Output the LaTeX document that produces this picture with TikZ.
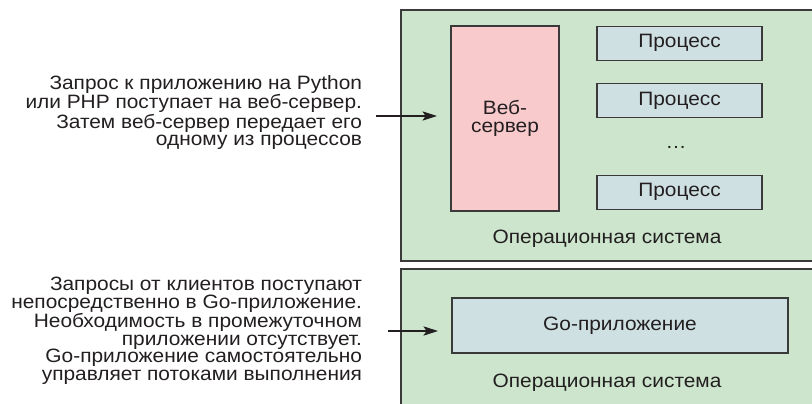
\documentclass[tikz,border=0pt]{standalone}
\usepackage{fontspec}
\setmainfont[FakeStretch=1.08]{Liberation Sans}
\usetikzlibrary{arrows.meta}
\definecolor{osgreen}{HTML}{CCE5CC}
\definecolor{wspink}{HTML}{F8CACC}
\definecolor{procblue}{HTML}{CFE0E3}
\definecolor{edge}{HTML}{3A3A3A}
\definecolor{txt}{HTML}{231F20}
\begin{document}
\begin{tikzpicture}[x=0.75pt,y=-0.75pt,
  every node/.style={inner sep=0pt,outer sep=0pt,text=txt,font=\fontsize{14.5pt}{13.2pt}\selectfont},
  osbox/.style={draw=edge,fill=osgreen,line width=0.9pt,anchor=north west},
  wsbox/.style={draw=edge,fill=wspink,line width=0.9pt,minimum width=81pt,minimum height=138.75pt,align=center},
  procbox/.style={draw=edge,fill=procblue,line width=0.9pt,minimum width=123.75pt,minimum height=25.5pt},
  gobox/.style={draw=edge,fill=procblue,line width=0.9pt,minimum width=252pt,minimum height=41.25pt},
  note/.style={anchor=east,align=right},
  arr/.style={draw=txt,line width=0.8pt,-{Stealth[length=11pt,width=7pt,inset=2.5pt]},shorten >=10.5pt}
]
\clip (0,0) rectangle (812,403);
\fill[white] (0,0) rectangle (812,403);
% top: web server scheme
\node[osbox,minimum width=321.75pt,minimum height=188.25pt] (os1) at (401,10) {};
\node[wsbox] (ws) at (505,118.5) {Веб-\\сервер};
\node[procbox] (p1) at (679.5,43.2) {Процесс};
\node[procbox] (p2) at (679.5,100.5) {Процесс};
\node[anchor=base] (dots) at (676,148) {…};
\node[procbox] (p3) at (679.5,192.3) {Процесс};
\node (os1lbl) at (607,238.5) {Операционная система};
\node[note] (t1) at (362,112.5) {Запрос к приложению на Python\\или PHP поступает на веб-сервер.\\Затем веб-сервер передает его\\одному из процессов};
\coordinate (a1) at (376,116);
\draw[arr] (a1) -- (ws.west |- a1);
% bottom: Go scheme
\node[osbox,minimum width=321.75pt,minimum height=120pt] (os2) at (401,269) {};
\node[gobox] (go) at (620,325.5) {Go-приложение};
\node (os2lbl) at (607,383) {Операционная система};
\node[note] (t2) at (362,330.7) {Запросы от клиентов поступают\\непосредственно в Go-приложение.\\Необходимость в промежуточном\\приложении отсутствует.\\Go-приложение самостоятельно\\управляет потоками выполнения};
\coordinate (a2) at (388,331);
\draw[arr] (a2) -- (go.west |- a2);
\end{tikzpicture}
\end{document}
